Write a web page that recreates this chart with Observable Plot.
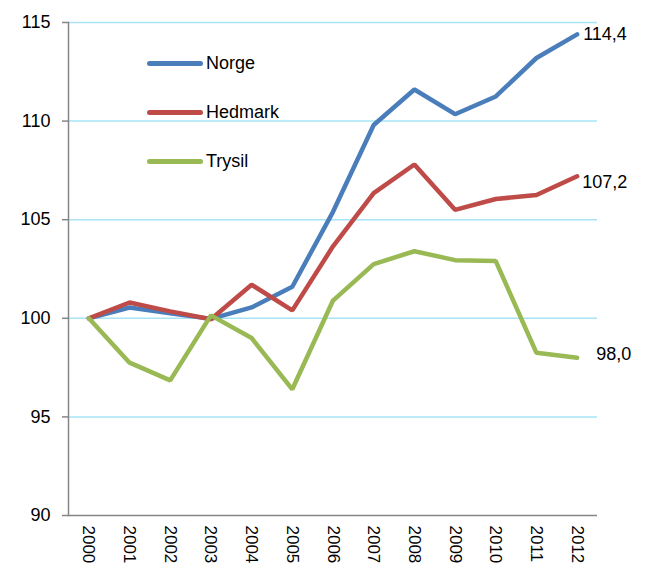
<!DOCTYPE html>
<html>
<head>
<meta charset="utf-8">
<script src="https://cdn.jsdelivr.net/npm/d3@7"></script>
<script src="https://cdn.jsdelivr.net/npm/@observablehq/plot@0.6"></script>
<style>
  html, body { margin: 0; padding: 0; background: #fff; }
  #wrap { position: relative; width: 649px; height: 573px; font-family: "Liberation Sans", Arial, sans-serif; }
  .leg { position: absolute; left: 147px; font-size: 18px; color: #000; display: flex; align-items: center; }
  .leg span.sw { display: inline-block; width: 56px; height: 5px; border-radius: 3px; margin-right: 3px; }
</style>
</head>
<body>
<div id="wrap"></div>
<script>
const years = ["2000","2001","2002","2003","2004","2005","2006","2007","2008","2009","2010","2011","2012"];
const norge   = [100, 100.55, 100.25, 99.97, 100.55, 101.6, 105.4, 109.8, 111.6, 110.35, 111.25, 113.2, 114.4];
const hedmark = [100, 100.8, 100.35, 99.95, 101.7, 100.4, 103.65, 106.35, 107.8, 105.5, 106.05, 106.25, 107.2];
const trysil  = [100, 97.75, 96.85, 100.15, 99.0, 96.4, 100.9, 102.75, 103.4, 102.95, 102.9, 98.25, 98.0];
const seriesNames = ["Norge", "Hedmark", "Trysil"];
const seriesColors = ["#4a7ebb", "#be4b48", "#98b954"];
const endLabels = ["114,4", "107,2", "98,0"];
const yTicks = [90, 95, 100, 105, 110, 115];

const allSeries = [norge, hedmark, trysil];
const rows = [];
allSeries.forEach((vals, s) => vals.forEach((v, i) => rows.push({year: years[i], value: v, series: seriesNames[s]})));
const lastRows = allSeries.map((vals, s) => ({year: years[years.length - 1], value: vals[vals.length - 1], series: seriesNames[s], label: endLabels[s]}));

const font = "Liberation Sans, Arial, sans-serif";

const chart = Plot.plot({
  width: 649,
  height: 573,
  marginLeft: 68,
  marginRight: 52,
  marginTop: 22,
  marginBottom: 58,
  style: {fontFamily: font, fontSize: "18px", color: "#000", background: "#fff"},
  x: {type: "point", domain: years, padding: 0.5, round: false, label: null},
  y: {domain: [90, 115], label: null},
  color: {domain: seriesNames, range: seriesColors},
  marks: [
    Plot.gridY(yTicks.filter(d => d > 90), {stroke: "#a8e4f6", strokeOpacity: 1, strokeWidth: 1.5}),
    Plot.frame({anchor: "left", stroke: "#868686", strokeWidth: 1.5}),
    Plot.ruleY([90], {stroke: "#868686", strokeWidth: 1.5}),
    Plot.axisY(yTicks, {tickSize: 6, tickPadding: 12, stroke: "#868686", strokeWidth: 1.5, fontSize: 18, fill: "#000", label: null}),
    Plot.axisX(years, {tickSize: 0, tickPadding: 10, tickRotate: 90, fontSize: 17, fill: "#000", label: null}),
    Plot.line(rows, {x: "year", y: "value", z: "series", stroke: "series", strokeWidth: 4.5, strokeLinejoin: "miter", strokeLinecap: "round"}),
    Plot.text(lastRows.slice(0, 1), {x: "year", y: "value", text: "label", textAnchor: "start", dx: 6, dy: 0, fontSize: 18, fill: "#000"}),
    Plot.text(lastRows.slice(1, 2), {x: "year", y: "value", text: "label", textAnchor: "start", dx: 5, dy: 6, fontSize: 18, fill: "#000"}),
    Plot.text(lastRows.slice(2), {x: "year", y: "value", text: "label", textAnchor: "start", dx: 19, dy: -4, fontSize: 18, fill: "#000"})
  ]
});

const wrap = document.getElementById("wrap");
wrap.appendChild(chart);

const legendTops = [63, 112, 161];
seriesNames.forEach((name, i) => {
  const d = document.createElement("div");
  d.className = "leg";
  d.style.top = (legendTops[i] - 11) + "px";
  d.style.height = "22px";
  d.innerHTML = `<span class="sw" style="background:${seriesColors[i]}"></span><span>${name}</span>`;
  wrap.appendChild(d);
});
</script>
</body>
</html>
